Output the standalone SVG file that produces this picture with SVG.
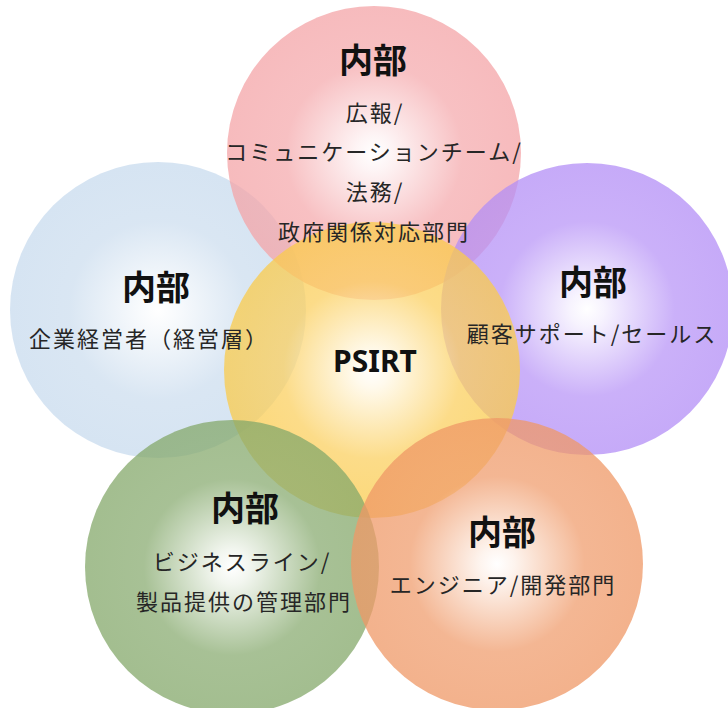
<svg xmlns="http://www.w3.org/2000/svg" width="728" height="708" viewBox="0 0 728 708">
<defs>
<radialGradient id="gPink"><stop offset="0" stop-color="#ffffff"/><stop offset="0.12" stop-color="#fdf1f2"/><stop offset="0.6" stop-color="#f5abae"/><stop offset="1" stop-color="#f4a4a7"/></radialGradient>
<radialGradient id="gBlue"><stop offset="0" stop-color="#ffffff"/><stop offset="0.12" stop-color="#f6f9fc"/><stop offset="0.6" stop-color="#cddeef"/><stop offset="1" stop-color="#c8dbee"/></radialGradient>
<radialGradient id="gPurple"><stop offset="0" stop-color="#ffffff"/><stop offset="0.12" stop-color="#f4effe"/><stop offset="0.6" stop-color="#b996f7"/><stop offset="1" stop-color="#b38ef6"/></radialGradient>
<radialGradient id="gYellow"><stop offset="0" stop-color="#ffffff"/><stop offset="0.12" stop-color="#fff8e6"/><stop offset="0.6" stop-color="#fbd061"/><stop offset="1" stop-color="#facb4b"/></radialGradient>
<radialGradient id="gGreen"><stop offset="0" stop-color="#ffffff"/><stop offset="0.12" stop-color="#eef3ea"/><stop offset="0.6" stop-color="#8aac72"/><stop offset="1" stop-color="#84a86a"/></radialGradient>
<radialGradient id="gOrange"><stop offset="0" stop-color="#ffffff"/><stop offset="0.12" stop-color="#fdf0e8"/><stop offset="0.6" stop-color="#f09e6f"/><stop offset="1" stop-color="#ef9866"/></radialGradient>
</defs>
<style>
.c{fill-opacity:0.75}
.t{font-family:"Noto Sans CJK JP","Noto Sans",sans-serif;font-weight:bold;font-size:34px;fill:#111;text-anchor:middle}
.s{font-family:"Noto Sans CJK JP","Noto Sans",sans-serif;font-size:22px;letter-spacing:2px;fill:#262626;text-anchor:middle}
.p{font-family:"Noto Sans","Open Sans",sans-serif;font-weight:bold;font-size:30px;fill:#111;text-anchor:middle}
</style>
<rect width="728" height="708" fill="#ffffff"/>
<g id="circles">
<circle id="c-blue" class="c" cx="158" cy="310" r="148" fill="url(#gBlue)"/>
<circle id="c-pink" class="c" cx="374" cy="153" r="147" fill="url(#gPink)"/>
<circle id="c-purple" class="c" cx="587" cy="309" r="146" fill="url(#gPurple)"/>
<circle id="c-yellow" class="c" cx="372" cy="370" r="148" fill="url(#gYellow)"/>
<circle id="c-green" class="c" cx="232" cy="567" r="147" fill="url(#gGreen)"/>
<circle id="c-orange" class="c" cx="497" cy="564" r="146" fill="url(#gOrange)"/>
</g>
<g id="connectors"></g>
<g id="node-top">
<text class="t" x="373" y="73">内部</text>
<text class="s" x="375" y="121">広報/</text>
<text class="s" x="374" y="160">コミュニケーションチーム/</text>
<text class="s" x="375" y="200">法務/</text>
<text class="s" x="374" y="240">政府関係対応部門</text>
</g>
<g id="node-left">
<text class="t" x="156" y="300">内部</text>
<text class="s" x="149" y="347">企業経営者（経営層）</text>
</g>
<g id="node-right">
<text class="t" x="593" y="295">内部</text>
<text class="s" x="592" y="342">顧客サポート/セールス</text>
</g>
<g id="node-center">
<text class="p" x="375" y="372">PSIRT</text>
</g>
<g id="node-bottom-left">
<text class="t" x="245" y="521">内部</text>
<text class="s" x="242" y="570">ビジネスライン/</text>
<text class="s" x="244" y="610">製品提供の管理部門</text>
</g>
<g id="node-bottom-right">
<text class="t" x="502" y="545">内部</text>
<text class="s" x="503" y="593">エンジニア/開発部門</text>
</g>
</svg>
